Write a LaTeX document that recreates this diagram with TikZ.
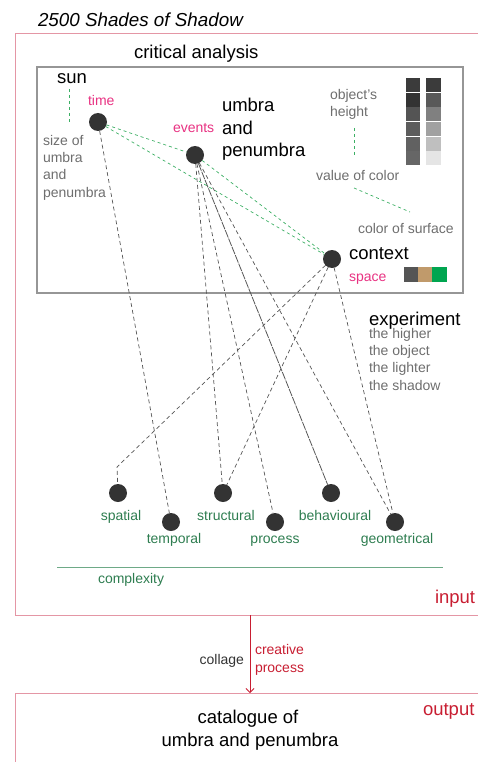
\documentclass[tikz,border=0pt]{standalone}
\usepackage{fontspec}
\setmainfont{Liberation Sans}
\usetikzlibrary{arrows.meta}
\definecolor{framered}{RGB}{228,150,165}
\definecolor{redtxt}{RGB}{200,30,50}
\definecolor{magtxt}{RGB}{232,50,130}
\definecolor{greentxt}{RGB}{46,125,80}
\definecolor{graytxt}{RGB}{110,110,110}
\definecolor{dotfill}{RGB}{51,51,51}
\definecolor{linkgray}{RGB}{85,85,85}
\definecolor{linkgreen}{RGB}{60,175,100}
\definecolor{boxgray}{RGB}{150,150,150}
\definecolor{axisgreen}{RGB}{110,170,135}
\definecolor{swgray}{RGB}{85,85,85}
\definecolor{swtan}{RGB}{192,154,107}
\definecolor{swgreen}{RGB}{0,165,80}
\begin{document}
\begin{tikzpicture}[x=1pt,y=-1pt,
  every node/.style={inner sep=0pt, outer sep=0pt},
  hub/.style={circle, fill=dotfill, minimum size=18pt},
  bigtxt/.style={font=\fontsize{18.5}{22.5}\selectfont, text=black, anchor=base west, align=left},
  notetxt/.style={font=\fontsize{14}{17.2}\selectfont, text=graytxt, anchor=base west, align=left},
  tagtxt/.style={font=\fontsize{14}{17}\selectfont, text=magtxt, anchor=base west},
  kindtxt/.style={font=\fontsize{14}{17}\selectfont, text=greentxt, anchor=base},
  redlbl/.style={font=\fontsize{18.5}{22}\selectfont, text=redtxt, anchor=base west},
  shadowlink/.style={draw=linkgray, line width=0.7pt, dash pattern=on 4pt off 3pt},
  hintlink/.style={draw=linkgreen, line width=0.7pt, dash pattern=on 3pt off 3pt},
  framepen/.style={draw=framered, line width=1pt},
]
\useasboundingbox (0,0) rectangle (478,762);

% title
\node[font=\fontsize{18.8}{22}\selectfont\itshape, anchor=base west] (title) at (38,27) {2500 Shades of Shadow};

% input frame
\draw[framepen] (482,34) -- (15,34) -- (15,615) -- (482,615);
\node[redlbl] (inputlbl) at (435,603) {input};

% critical analysis box
\node[bigtxt] (crit) at (134,59) {critical analysis};
\draw[draw=boxgray, line width=1.2pt] (37,67) rectangle (463,293);

% sun, time (multi-line nodes sit on the baseline of their last line)
\node[bigtxt] (sun) at (57,84) {sun};
\draw[hintlink] (69,89) -- (69,122);
\node[tagtxt] (timelbl) at (88,106) {time};
\node[hub] (time) at (98,122) {};
\node[notetxt] (sizelbl) at (43,197) {size of\\umbra\\and\\penumbra};

% events, umbra and penumbra
\node[tagtxt] (eventslbl) at (173,133) {events};
\node[hub] (events) at (195,155) {};
\node[bigtxt] (umbra) at (222,157) {umbra\\and\\penumbra};

% object height and colour scales
\node[notetxt] (heightlbl) at (330,117) {object's\\height};
\draw[hintlink] (354,128) -- (354,158);
\node[notetxt] (valuelbl) at (316,180) {value of color};
\draw[hintlink] (354,188) -- (410,212);
\node[notetxt] (surfacelbl) at (358,233) {color of surface};

\foreach \c [count=\i from 0] in {77,80,67,64,62,60} {
  \fill[black!\c!white] (406,78+\i*14.7) rectangle (420,78+\i*14.7+13.9);
}
\foreach \c [count=\i from 0] in {77,65,50,37,25,10} {
  \fill[black!\c!white] (426,78+\i*14.7) rectangle (441,78+\i*14.7+13.9);
}

% context
\node[hub] (context) at (332,259) {};
\node[bigtxt] (contextlbl) at (349,259) {context};
\node[tagtxt] (spacelbl) at (349,281) {space};
\fill[swgray] (404,267) rectangle (417.6,282);
\fill[swtan] (418.2,267) rectangle (431.8,282);
\fill[swgreen] (432.4,267) rectangle (447,282);

% experiment
\node[bigtxt] (experiment) at (369,325) {experiment};
\node[notetxt] (explbl) at (369,390) {the higher\\the object\\the lighter\\the shadow};

% shadow kinds
\node[hub] (spatial) at (118,493) {};
\node[hub] (temporal) at (171,522) {};
\node[hub] (structural) at (223,493) {};
\node[hub] (process) at (275,522) {};
\node[hub] (behavioural) at (331,493) {};
\node[hub] (geometrical) at (395,522) {};
\node[kindtxt] (spatiallbl) at (121,520) {spatial};
\node[kindtxt] (temporallbl) at (174,543) {temporal};
\node[kindtxt] (structurallbl) at (226,520) {structural};
\node[kindtxt] (processlbl) at (275,543) {process};
\node[kindtxt] (behaviourallbl) at (335,520) {behavioural};
\node[kindtxt] (geometricallbl) at (397,543) {geometrical};

% complexity axis
\coordinate (axL) at (57,567);
\coordinate (axR) at (443,567);
\draw[draw=axisgreen, line width=0.8pt] (axL) -- (axR);
\node[font=\fontsize{14}{17}\selectfont, text=greentxt, anchor=base west] (complexity) at (98,583) {complexity};

% links between the top hubs
\draw[hintlink] (time) -- (events);
\draw[hintlink] (time) -- (context);
\draw[hintlink] (events) -- (context);

% links to the kinds
\coordinate (spk) at (117,467);
\draw[shadowlink] (time) -- (temporal);
\draw[shadowlink] (events) -- (structural);
\draw[shadowlink] (events) -- (process);
\draw[draw=linkgray, line width=0.8pt, dash pattern=on 8pt off 1pt] (events) -- (behavioural);
\draw[shadowlink] (events) -- (geometrical);
\draw[shadowlink] (context) -- (spk) -- (spatial);
\draw[shadowlink] (context) -- (structural);
\draw[shadowlink] (context) -- (geometrical);

% creative process arrow
\coordinate (inB) at (250,615);
\coordinate (outT) at (250,693);
\draw[draw=redtxt, line width=0.8pt, -{Straight Barb[length=4pt,width=8pt]}] (inB) -- (outT);
\node[font=\fontsize{14}{17}\selectfont, text=black!80, anchor=base east] (collage) at (244,664) {collage};
\node[font=\fontsize{14}{17.2}\selectfont, text=redtxt, anchor=base west, align=left] (creative) at (255,672) {creative\\process};

% output frame
\draw[framepen] (482,693) -- (15,693) -- (15,766);
\node[redlbl] (outputlbl) at (423,715) {output};
\node[font=\fontsize{18.5}{23}\selectfont, anchor=base] (cat1) at (248,723) {catalogue of};
\node[font=\fontsize{18.5}{23}\selectfont, anchor=base] (cat2) at (250,746) {umbra and penumbra};
\end{tikzpicture}
\end{document}
